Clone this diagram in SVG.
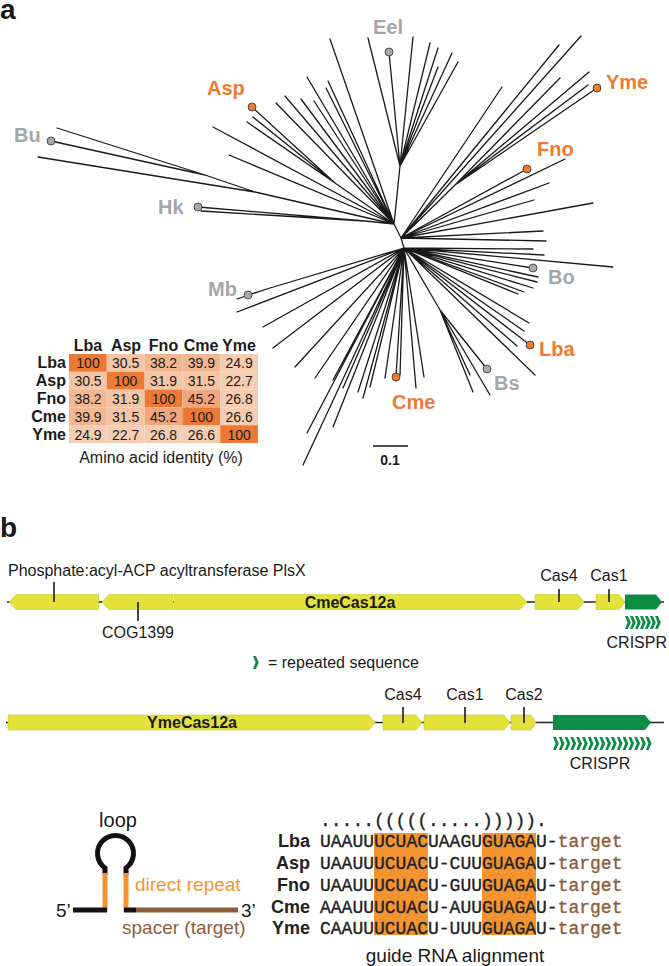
<svg xmlns="http://www.w3.org/2000/svg" width="669" height="966" viewBox="0 0 669 966">
<defs>
<style>
.sans{font-family:"Liberation Sans",Arial,sans-serif}
.panel{font-family:"Liberation Sans",Arial,sans-serif;font-weight:bold;font-size:28px;fill:#1a1a1a}
.tl{font-family:"Liberation Sans",Arial,sans-serif;font-weight:bold;font-size:20px}
.grey{fill:#A4A7AA}
.org{fill:#EE7B31}
.br{stroke:#1a1a1a;stroke-width:1.3;fill:none;stroke-linecap:round}
.dg{fill:#A7A9AC;stroke:#333;stroke-width:0.8}
.do{fill:#EE7A30;stroke:#333;stroke-width:0.8}
.hd{font-family:"Liberation Sans",Arial,sans-serif;font-weight:bold;font-size:16px;fill:#1a1a1a}
.cv{font-family:"Liberation Sans",Arial,sans-serif;font-size:14px;fill:#1a1a1a;text-anchor:middle}
.gene{fill:#E2E23A;stroke:#C9C92A;stroke-width:0.6}
.crispr{fill:#0B8C47}
.bb{stroke:#222;stroke-width:1.5}
.tick{stroke:#1a1a1a;stroke-width:1.6}
.lab{font-family:"Liberation Sans",Arial,sans-serif;font-size:16px;fill:#1a1a1a}
.seq{font-family:"Liberation Mono","Courier New",monospace;font-size:18px;fill:#222;stroke:#222;stroke-width:0.35}
.tgt{fill:#8C5E3B;stroke:#8C5E3B}
.rl{font-family:"Liberation Sans",Arial,sans-serif;font-weight:bold;font-size:18px;fill:#222;text-anchor:end}
</style>
<polygon id="chev" points="0,0 2.8,0 5.8,6.5 2.8,13 0,13 2.6,6.5" fill="#0B8C47"/>
</defs>
<rect width="669" height="966" fill="#ffffff"/>

<text class="panel" x="0" y="19">a</text>
<text class="panel" x="0" y="537">b</text>

<g id="tree">
<path class="br" d="M400,166 L394,224 L401,238 L404,248
M368,38 L400,166 M389,52 L400,166 M413,37 L400,166 M430,43 L400,166 M438,48 L400,166 M452,53 L400,166 M458,62 L400,166 M438,67 L400,166
M330,39 L394,224 M307,77 L394,224 M328,81 L394,224 M326,88 L394,224 M285,96 L394,224 M301,99 L394,224 M314,101 L394,224 M276,103 L394,224 M213,127 L394,224 M229,155 L394,224
M252,107 L335,183 M253,117 L335,183 M247,122 L335,183 M335,183 L394,224
M57,128 L205,175 M51,141 L205,175 M205,175 L255,192 M38,157 L255,192 M255,192 L394,224
M198,207 L365,221 M201,211 L365,221 M365,221 L394,224
M581,36 L401,238 M559,45 L401,238 M502,87 L401,238
M589,72 L455,185 M560,78 L455,185 M588,85 L455,185 M597,88 L455,185 M455,185 L401,238
M527,169 L401,238 M565,159 L401,238 M549,183 L401,238 M534,200 L401,238 M593,203 L401,238 M543,231 L401,238 M546,241 L401,238
M533,249 L404,248 M544,255 L404,248 M613,267 L404,248
M533,268 L404,248 M538,277 L404,248 M537,282 L404,248 M533,288 L404,248 M524,292 L404,248 M518,294 L404,248
M529,323 L404,248 M524,331 L404,248 M517,346 L404,248 M530,345 L404,248 M535,375 L404,248
M487,369 L440,310 M470,375 L440,310 M473,392 L440,310 M490,395 L440,310 M440,310 L404,248
M396,377 L404,248 M400,375 L404,248 M385,378 L404,248 M416,388 L404,248 M424,377 L404,248 M370,387 L404,248 M363,398 L404,248 M358,392 L404,248
M343,388 L404,248 M333,380 L404,248 M315,378 L404,248 M333,427 L404,248 M307,433 L404,248 M303,465 L404,248 M295,367 L404,248 M273,348 L404,248 M263,327 L404,248 M237,312 L404,248
M248,295 L270,288 M237,299 L270,288 M270,288 L404,248"/>
<circle class="dg" cx="389" cy="52" r="4"/>
<circle class="dg" cx="51" cy="141" r="4"/>
<circle class="dg" cx="198" cy="207" r="4"/>
<circle class="dg" cx="248" cy="295" r="4"/>
<circle class="dg" cx="533" cy="268" r="4"/>
<circle class="dg" cx="487" cy="369" r="4"/>
<circle class="do" cx="252" cy="107" r="4"/>
<circle class="do" cx="597" cy="88" r="4"/>
<circle class="do" cx="527" cy="169" r="4"/>
<circle class="do" cx="530" cy="345" r="4"/>
<circle class="do" cx="396" cy="377" r="4"/>
<text class="tl grey" x="373" y="34">Eel</text>
<text class="tl org" x="207" y="95">Asp</text>
<text class="tl org" x="606" y="89">Yme</text>
<text class="tl org" x="537" y="156">Fno</text>
<text class="tl grey" x="14" y="142">Bu</text>
<text class="tl grey" x="158" y="214">Hk</text>
<text class="tl grey" x="208" y="296">Mb</text>
<text class="tl grey" x="548" y="284">Bo</text>
<text class="tl org" x="539" y="356">Lba</text>
<text class="tl grey" x="494" y="390">Bs</text>
<text class="tl org" x="392" y="409">Cme</text>
<line x1="373" y1="446" x2="408" y2="446" stroke="#1a1a1a" stroke-width="1.5"/>
<text class="sans" x="390" y="465" font-size="14" font-weight="bold" text-anchor="middle" fill="#1a1a1a">0.1</text>
</g>

<g id="identity-table">
<g class="hd" text-anchor="middle">
<text x="88" y="351">Lba</text><text x="126" y="351">Asp</text><text x="163.5" y="351">Fno</text><text x="201" y="351">Cme</text><text x="239" y="351">Yme</text>
</g>
<g class="hd" text-anchor="end">
<text x="66" y="368">Lba</text><text x="66" y="386">Asp</text><text x="66" y="404">Fno</text><text x="66" y="422">Cme</text><text x="66" y="440">Yme</text>
</g>
<g>
<rect x="69" y="354" width="37.8" height="17.8" fill="#EC7A34"/>
<rect x="106.8" y="354" width="37.8" height="17.8" fill="#F4C4A4"/>
<rect x="144.6" y="354" width="37.8" height="17.8" fill="#F2B690"/>
<rect x="182.4" y="354" width="37.8" height="17.8" fill="#F2B690"/>
<rect x="220.2" y="354" width="37.8" height="17.8" fill="#F6CDB2"/>
<rect x="69" y="371.8" width="37.8" height="17.8" fill="#F4C4A4"/>
<rect x="106.8" y="371.8" width="37.8" height="17.8" fill="#EC7A34"/>
<rect x="144.6" y="371.8" width="37.8" height="17.8" fill="#F4C4A4"/>
<rect x="182.4" y="371.8" width="37.8" height="17.8" fill="#F4C4A4"/>
<rect x="220.2" y="371.8" width="37.8" height="17.8" fill="#F6CDB2"/>
<rect x="69" y="389.6" width="37.8" height="17.8" fill="#F2B690"/>
<rect x="106.8" y="389.6" width="37.8" height="17.8" fill="#F4C4A4"/>
<rect x="144.6" y="389.6" width="37.8" height="17.8" fill="#EC7A34"/>
<rect x="182.4" y="389.6" width="37.8" height="17.8" fill="#F0A77E"/>
<rect x="220.2" y="389.6" width="37.8" height="17.8" fill="#F6CDB2"/>
<rect x="69" y="407.4" width="37.8" height="17.8" fill="#F2B690"/>
<rect x="106.8" y="407.4" width="37.8" height="17.8" fill="#F4C4A4"/>
<rect x="144.6" y="407.4" width="37.8" height="17.8" fill="#F0A77E"/>
<rect x="182.4" y="407.4" width="37.8" height="17.8" fill="#EC7A34"/>
<rect x="220.2" y="407.4" width="37.8" height="17.8" fill="#F6CDB2"/>
<rect x="69" y="425.2" width="37.8" height="17.8" fill="#F6CDB2"/>
<rect x="106.8" y="425.2" width="37.8" height="17.8" fill="#F6CDB2"/>
<rect x="144.6" y="425.2" width="37.8" height="17.8" fill="#F6CDB2"/>
<rect x="182.4" y="425.2" width="37.8" height="17.8" fill="#F6CDB2"/>
<rect x="220.2" y="425.2" width="37.8" height="17.8" fill="#EC7A34"/>
</g>
<g class="cv">
<text x="88" y="368">100</text><text x="125.7" y="368">30.5</text><text x="163.5" y="368">38.2</text><text x="201.3" y="368">39.9</text><text x="239.1" y="368">24.9</text>
<text x="88" y="386">30.5</text><text x="125.7" y="386">100</text><text x="163.5" y="386">31.9</text><text x="201.3" y="386">31.5</text><text x="239.1" y="386">22.7</text>
<text x="88" y="404">38.2</text><text x="125.7" y="404">31.9</text><text x="163.5" y="404">100</text><text x="201.3" y="404">45.2</text><text x="239.1" y="404">26.8</text>
<text x="88" y="422">39.9</text><text x="125.7" y="422">31.5</text><text x="163.5" y="422">45.2</text><text x="201.3" y="422">100</text><text x="239.1" y="422">26.6</text>
<text x="88" y="440">24.9</text><text x="125.7" y="440">22.7</text><text x="163.5" y="440">26.8</text><text x="201.3" y="440">26.6</text><text x="239.1" y="440">100</text>
</g>
<text class="lab" x="161" y="463" text-anchor="middle">Amino acid identity (%)</text>
</g>

<g id="locus-cme">
<line class="bb" x1="7" y1="602" x2="664" y2="602"/>
<polygon class="gene" points="9,602 16,594.5 98.5,594.5 98.5,609.5 16,609.5"/>
<polygon class="gene" points="102,602 109,594.5 173,594.5 173,609.5 109,609.5"/>
<polygon class="gene" points="174,594.5 520,594.5 527,602 520,609.5 174,609.5"/>
<polygon class="gene" points="535,594.5 578,594.5 584,602 578,609.5 535,609.5"/>
<polygon class="gene" points="596,594.5 619,594.5 625,602 619,609.5 596,609.5"/>
<polygon class="crispr" points="625,594.5 656,594.5 662,602 656,609.5 625,609.5"/>
<line class="tick" x1="54" y1="582" x2="54" y2="602"/>
<line class="tick" x1="138" y1="602" x2="138" y2="621"/>
<line class="tick" x1="559" y1="589" x2="559" y2="602"/>
<line class="tick" x1="609" y1="589" x2="609" y2="602"/>
<text class="lab" x="8" y="576">Phosphate:acyl-ACP acyltransferase PlsX</text>
<text class="lab" x="138" y="638" text-anchor="middle">COG1399</text>
<text class="lab" x="559" y="581" text-anchor="middle">Cas4</text>
<text class="lab" x="609" y="581" text-anchor="middle">Cas1</text>
<text class="lab" x="350" y="608" text-anchor="middle" font-weight="bold">CmeCas12a</text>
<g>
<use href="#chev" x="625" y="616"/><use href="#chev" x="630" y="616"/><use href="#chev" x="635" y="616"/><use href="#chev" x="640" y="616"/><use href="#chev" x="645" y="616"/><use href="#chev" x="650" y="616"/><use href="#chev" x="655" y="616"/>
</g>
<text class="lab" x="667" y="648" text-anchor="end">CRISPR</text>
</g>

<g id="legend">
<use href="#chev" x="253" y="656"/>
<text class="lab" x="268" y="668">= repeated sequence</text>
</g>

<g id="locus-yme">
<line class="bb" x1="6" y1="722.5" x2="664" y2="722.5"/>
<polygon class="gene" points="8,715 369,715 375,722.5 369,730 8,730"/>
<polygon class="gene" points="383,715 416,715 422,722.5 416,730 383,730"/>
<polygon class="gene" points="424,715 504,715 510,722.5 504,730 424,730"/>
<polygon class="gene" points="511,715 531,715 536,722.5 531,730 511,730"/>
<polygon class="crispr" points="553,715 645,715 651,722.5 645,730 553,730"/>
<line class="tick" x1="403" y1="707" x2="403" y2="723"/>
<line class="tick" x1="465" y1="707" x2="465" y2="723"/>
<line class="tick" x1="524" y1="707" x2="524" y2="723"/>
<text class="lab" x="403" y="700" text-anchor="middle">Cas4</text>
<text class="lab" x="465" y="700" text-anchor="middle">Cas1</text>
<text class="lab" x="524" y="700" text-anchor="middle">Cas2</text>
<text class="lab" x="192" y="728" text-anchor="middle" font-weight="bold">YmeCas12a</text>
<g>
<use href="#chev" x="553" y="737"/><use href="#chev" x="558.8" y="737"/><use href="#chev" x="564.6" y="737"/><use href="#chev" x="570.4" y="737"/><use href="#chev" x="576.2" y="737"/><use href="#chev" x="582" y="737"/><use href="#chev" x="587.8" y="737"/><use href="#chev" x="593.6" y="737"/><use href="#chev" x="599.4" y="737"/><use href="#chev" x="605.2" y="737"/><use href="#chev" x="611" y="737"/><use href="#chev" x="616.8" y="737"/><use href="#chev" x="622.6" y="737"/><use href="#chev" x="628.4" y="737"/><use href="#chev" x="634.2" y="737"/><use href="#chev" x="640" y="737"/><use href="#chev" x="645.8" y="737"/>
</g>
<text class="lab" x="600" y="769" text-anchor="middle">CRISPR</text>
</g>

<g id="hairpin">
<path d="M105,875 L105,868 A18,18 0 1,1 126,868 L126,875" fill="none" stroke="#111" stroke-width="5"/>
<line x1="105" y1="873" x2="105" y2="912" stroke="#F39431" stroke-width="5"/>
<line x1="126" y1="873" x2="126" y2="912" stroke="#F39431" stroke-width="5"/>
<line x1="73" y1="910" x2="107" y2="910" stroke="#111" stroke-width="5"/>
<line x1="124" y1="910" x2="136" y2="910" stroke="#111" stroke-width="5"/>
<line x1="136" y1="910" x2="238" y2="910" stroke="#8C5E3B" stroke-width="5"/>
<text class="sans" x="118" y="827" font-size="20" text-anchor="middle" fill="#1a1a1a">loop</text>
<text class="sans" x="56" y="917" font-size="19" fill="#1a1a1a">5’</text>
<text class="sans" x="241" y="917" font-size="19" fill="#1a1a1a">3’</text>
<text class="sans" x="135" y="891" font-size="19" fill="#F39431">direct repeat</text>
<text class="sans" x="122" y="934" font-size="19" fill="#8C5E3B">spacer (target)</text>
</g>

<g id="alignment">
<rect x="374" y="833" width="54" height="102" fill="#F39431"/>
<rect x="482" y="833" width="54" height="102" fill="#F39431"/>
<text class="seq" x="320" y="826">.....(((((.....))))).</text>
<text class="rl" x="310" y="847">Lba</text>
<text class="rl" x="310" y="869">Asp</text>
<text class="rl" x="310" y="891">Fno</text>
<text class="rl" x="310" y="913">Cme</text>
<text class="rl" x="310" y="934">Yme</text>
<text class="seq" x="320" y="847">UAAUUUCUACUAAGUGUAGAU-<tspan class="tgt">target</tspan></text>
<text class="seq" x="320" y="869">UAAUUUCUACU-CUUGUAGAU-<tspan class="tgt">target</tspan></text>
<text class="seq" x="320" y="891">UAAUUUCUACU-GUUGUAGAU-<tspan class="tgt">target</tspan></text>
<text class="seq" x="320" y="913">AAAUUUCUACU-AUUGUAGAU-<tspan class="tgt">target</tspan></text>
<text class="seq" x="320" y="934">CAAUUUCUACU-UUUGUAGAU-<tspan class="tgt">target</tspan></text>
<text class="sans" x="455" y="962" font-size="19" text-anchor="middle" fill="#1a1a1a">guide RNA alignment</text>
</g>
</svg>
